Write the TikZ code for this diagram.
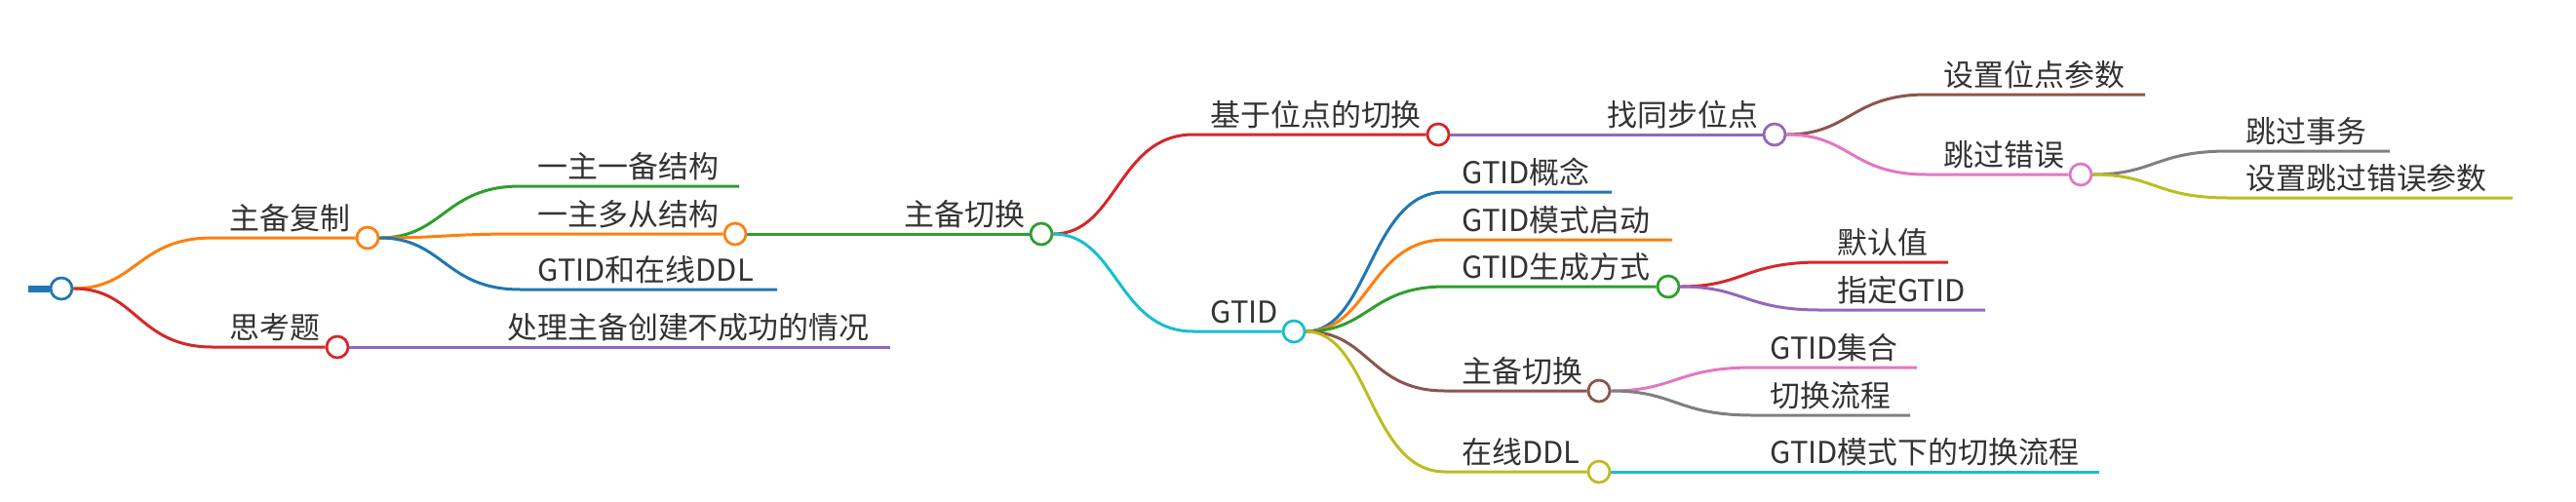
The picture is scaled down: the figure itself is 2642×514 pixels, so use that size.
\documentclass[tikz,border=0pt]{standalone}
\usepackage{fontspec}
\setmainfont{Noto Sans CJK SC}
\usetikzlibrary{calc}
\definecolor{mmblue}{HTML}{1F77B4}
\definecolor{mmorange}{HTML}{FF7F0E}
\definecolor{mmgreen}{HTML}{2CA02C}
\definecolor{mmred}{HTML}{D62728}
\definecolor{mmpurple}{HTML}{9467BD}
\definecolor{mmbrown}{HTML}{8C564B}
\definecolor{mmpink}{HTML}{E377C2}
\definecolor{mmgrey}{HTML}{7F7F7F}
\definecolor{mmolive}{HTML}{BCBD22}
\definecolor{mmcyan}{HTML}{17BECF}

\begin{document}
\begin{tikzpicture}[
    x=0.2mm, y=-0.2mm,
    every node/.style={font=\fontsize{17.6}{20}\selectfont, text=black!80},
    lbl/.style={anchor=base west, inner sep=0pt},
    dot/.style={circle, draw=#1, fill=white, line width=0.55mm,
                minimum size=4.4mm, inner sep=0pt},
    br/.style={draw=#1, line width=0.6mm},
    link/.style={to path={let \p1=(\tikztostart), \p2=(\tikztotarget) in
        .. controls ({0.5*\x1+0.5*\x2},\y1) and ({0.5*\x1+0.5*\x2},\y2) .. (\tikztotarget)}}
]
    \useasboundingbox (0,0) rectangle (2642,514);

    % Root
    \coordinate (stub) at (29,296);
    \node[dot=mmblue] (root) at (63,296) {};
    \draw[mmblue, line width=1.4mm] (stub) -- (root);

    % Level 1
    \coordinate (s-zbfz) at (218,244);
    \node[lbl] (zbfz) at (235,235) {主备复制};
    \node[dot=mmorange] (c-zbfz) at (377,244) {};
    \draw[br=mmorange] (root) to[link] (s-zbfz) -- (c-zbfz);

    \coordinate (s-skt) at (218,356);
    \node[lbl] (skt) at (235,347) {思考题};
    \node[dot=mmred] (c-skt) at (346,356) {};
    \draw[br=mmred] (root) to[link] (s-skt) -- (c-skt);

    % Level 2: 主备复制
    \coordinate (s-yzyb) at (534,191);
    \node[lbl] (yzyb) at (551,182) {一主一备结构};
    \coordinate (e-yzyb) at (758,191);
    \draw[br=mmgreen] (c-zbfz) to[link] (s-yzyb) -- (e-yzyb);

    \coordinate (s-yzdc) at (534,240);
    \node[lbl] (yzdc) at (551,231) {一主多从结构};
    \node[dot=mmorange] (c-yzdc) at (754,240) {};
    \draw[br=mmorange] (c-zbfz) to[link] (s-yzdc) -- (c-yzdc);

    \coordinate (s-gtddl) at (534,297);
    \node[lbl] (gtddl) at (551,288) {GTID和在线DDL};
    \coordinate (e-gtddl) at (797,297);
    \draw[br=mmblue] (c-zbfz) to[link] (s-gtddl) -- (e-gtddl);

    % Level 2: 思考题
    \coordinate (s-clzb) at (503,356);
    \node[lbl] (clzb) at (520,347) {处理主备创建不成功的情况};
    \coordinate (e-clzb) at (913,356);
    \draw[br=mmpurple] (c-skt) to[link] (s-clzb) -- (e-clzb);

    % Level 3
    \coordinate (s-zbqh) at (910,240);
    \node[lbl] (zbqh) at (927,231) {主备切换};
    \node[dot=mmgreen] (c-zbqh) at (1068,240) {};
    \draw[br=mmgreen] (c-yzdc) -- (s-zbqh) -- (c-zbqh);

    % Level 4
    \coordinate (s-jywd) at (1224,138);
    \node[lbl] (jywd) at (1241,129) {基于位点的切换};
    \node[dot=mmred] (c-jywd) at (1475,138) {};
    \draw[br=mmred] (c-zbqh) to[link] (s-jywd) -- (c-jywd);

    \coordinate (s-gtid) at (1224,340);
    \node[lbl] (gtid) at (1241,331) {GTID};
    \node[dot=mmcyan] (c-gtid) at (1327,340) {};
    \draw[br=mmcyan] (c-zbqh) to[link] (s-gtid) -- (c-gtid);

    % Level 5: 基于位点的切换
    \coordinate (s-ztbw) at (1631,138);
    \node[lbl] (ztbw) at (1648,129) {找同步位点};
    \node[dot=mmpurple] (c-ztbw) at (1820,138) {};
    \draw[br=mmpurple] (c-jywd) -- (s-ztbw) -- (c-ztbw);

    % Level 5: GTID
    \coordinate (s-gtgn) at (1482,197);
    \node[lbl] (gtgn) at (1499,188) {GTID概念};
    \coordinate (e-gtgn) at (1653,197);
    \draw[br=mmblue] (c-gtid) to[link] (s-gtgn) -- (e-gtgn);

    \coordinate (s-gtms) at (1482,246);
    \node[lbl] (gtms) at (1499,237) {GTID模式启动};
    \coordinate (e-gtms) at (1715,246);
    \draw[br=mmorange] (c-gtid) to[link] (s-gtms) -- (e-gtms);

    \coordinate (s-gtsc) at (1482,294);
    \node[lbl] (gtsc) at (1499,285) {GTID生成方式};
    \node[dot=mmgreen] (c-gtsc) at (1711,294) {};
    \draw[br=mmgreen] (c-gtid) to[link] (s-gtsc) -- (c-gtsc);

    \coordinate (s-zbqh2) at (1482,401);
    \node[lbl] (zbqh2) at (1499,392) {主备切换};
    \node[dot=mmbrown] (c-zbqh2) at (1640,401) {};
    \draw[br=mmbrown] (c-gtid) to[link] (s-zbqh2) -- (c-zbqh2);

    \coordinate (s-zxddl) at (1482,484);
    \node[lbl] (zxddl) at (1499,475) {在线DDL};
    \node[dot=mmolive] (c-zxddl) at (1640,484) {};
    \draw[br=mmolive] (c-gtid) to[link] (s-zxddl) -- (c-zxddl);

    % Level 6: 找同步位点
    \coordinate (s-szwd) at (1976,97);
    \node[lbl] (szwd) at (1993,88) {设置位点参数};
    \coordinate (e-szwd) at (2200,97);
    \draw[br=mmbrown] (c-ztbw) to[link] (s-szwd) -- (e-szwd);

    \coordinate (s-tgcw) at (1976,179);
    \node[lbl] (tgcw) at (1993,170) {跳过错误};
    \node[dot=mmpink] (c-tgcw) at (2134,179) {};
    \draw[br=mmpink] (c-ztbw) to[link] (s-tgcw) -- (c-tgcw);

    % Level 6: GTID生成方式
    \coordinate (s-mrz) at (1867,269);
    \node[lbl] (mrz) at (1884,260) {默认值};
    \coordinate (e-mrz) at (1998,269);
    \draw[br=mmred] (c-gtsc) to[link] (s-mrz) -- (e-mrz);

    \coordinate (s-zdgt) at (1867,318);
    \node[lbl] (zdgt) at (1884,309) {指定GTID};
    \coordinate (e-zdgt) at (2036,318);
    \draw[br=mmpurple] (c-gtsc) to[link] (s-zdgt) -- (e-zdgt);

    % Level 6: 主备切换
    \coordinate (s-gtjh) at (1798,377);
    \node[lbl] (gtjh) at (1815,368) {GTID集合};
    \coordinate (e-gtjh) at (1966,377);
    \draw[br=mmpink] (c-zbqh2) to[link] (s-gtjh) -- (e-gtjh);

    \coordinate (s-qhlc) at (1798,426);
    \node[lbl] (qhlc) at (1815,417) {切换流程};
    \coordinate (e-qhlc) at (1959,426);
    \draw[br=mmgrey] (c-zbqh2) to[link] (s-qhlc) -- (e-qhlc);

    % Level 6: 在线DDL
    \coordinate (s-msqh) at (1798,484);
    \node[lbl] (msqh) at (1815,475) {GTID模式下的切换流程};
    \coordinate (e-msqh) at (2153,484);
    \draw[br=mmcyan] (c-zxddl) -- (s-msqh) -- (e-msqh);

    % Level 7: 跳过错误
    \coordinate (s-tgsw) at (2286,155);
    \node[lbl] (tgsw) at (2303,146) {跳过事务};
    \coordinate (e-tgsw) at (2451,155);
    \draw[br=mmgrey] (c-tgcw) to[link] (s-tgsw) -- (e-tgsw);

    \coordinate (s-sztg) at (2286,203);
    \node[lbl] (sztg) at (2303,194) {设置跳过错误参数};
    \coordinate (e-sztg) at (2577,203);
    \draw[br=mmolive] (c-tgcw) to[link] (s-sztg) -- (e-sztg);
\end{tikzpicture}
\end{document}
